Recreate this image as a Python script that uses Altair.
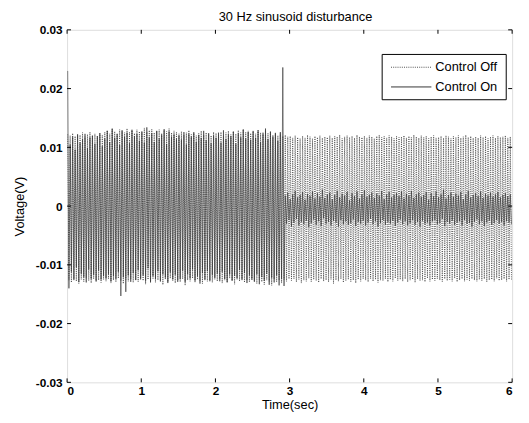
import altair as alt
import pandas as pd

# ---- data (millivolts), one peak and one trough per 30 Hz cycle, 0..6 s ----
freq_hz = 30
off_peaks = [
    12.2, 12.0, 12.4, 11.9, 12.3, 12.1, 12.5, 11.8, 12.2, 12.6, 12.0, 12.3, 11.9, 12.4, 12.1,
    12.6, 12.9, 12.3, 13.1, 12.7, 12.4, 13.0, 12.8, 12.5, 13.2, 12.6, 12.9, 12.4, 13.0, 12.7,
    12.8, 13.3, 12.6, 12.9, 13.1, 12.5, 12.8, 13.0, 12.4, 12.9, 12.7, 13.2, 12.5, 12.8, 12.6,
    12.3, 12.7, 12.1, 12.5, 12.9, 12.2, 12.6, 12.0, 12.4, 12.8, 12.1, 12.5, 12.3, 12.0, 12.6,
    12.4, 12.1, 12.6, 12.0, 12.5, 12.8, 12.2, 12.7, 12.3, 12.9, 12.5, 13.1, 12.6, 12.8, 12.4,
    12.7, 12.3, 12.9, 12.5, 12.2, 12.8, 12.4, 12.6, 12.1, 12.5, 12.0, 12.3, 11.9, 12.1, 11.8,
    11.9, 11.6, 12.0, 11.7, 11.5, 11.9, 11.6, 12.1, 11.8, 11.5, 11.9, 11.7, 12.0, 11.6, 11.8,
    11.7, 12.0, 11.6, 11.9, 11.8, 12.1, 11.5, 11.8, 12.0, 11.7, 11.9, 11.6, 12.1, 11.8, 11.7,
    11.9, 11.6, 12.0, 11.8, 11.5, 11.9, 12.1, 11.7, 11.9, 11.6, 12.0, 11.8, 11.5, 11.9, 11.7,
    11.8, 12.0, 11.6, 11.9, 11.7, 12.1, 11.8, 11.6, 12.0, 11.7, 11.9, 11.5, 11.8, 12.0, 11.6,
    11.7, 11.9, 11.6, 12.0, 11.8, 11.5, 11.9, 11.7, 12.0, 11.6, 11.8, 12.1, 11.7, 11.9, 11.6,
    11.8, 11.6, 12.0, 11.7, 11.9, 11.5, 11.8, 12.0, 11.6, 11.9, 11.7, 11.8, 12.0, 11.6, 11.8,
]
off_troughs = [
    -12.6, -13.0, -12.4, -12.8, -13.2, -12.5, -12.9, -12.3, -12.7, -13.1, -12.4, -12.8, -12.6, -13.0, -12.5,
    -12.8, -12.4, -13.1, -12.6, -12.9, -12.3, -12.7, -13.2, -12.5, -12.8, -12.4, -13.0, -12.6, -12.9, -12.3,
    -12.7, -13.3, -12.5, -12.9, -12.4, -13.0, -12.6, -12.8, -13.4, -12.5, -12.9, -12.3, -12.7, -13.1, -12.6,
    -12.9, -12.4, -13.5, -12.6, -12.8, -12.3, -13.0, -12.5, -12.7, -13.2, -12.4, -12.8, -12.6, -13.0, -12.5,
    -12.8, -12.4, -13.1, -12.6, -12.9, -12.3, -12.7, -13.3, -12.5, -12.8, -12.4, -13.0, -12.6, -12.9, -12.5,
    -12.7, -13.2, -12.5, -12.9, -13.4, -12.6, -12.8, -13.5, -12.4, -12.9, -12.6, -13.1, -12.5, -12.8, -12.4,
    -12.7, -12.4, -12.9, -12.5, -13.1, -12.6, -12.8, -12.3, -12.9, -12.5, -12.7, -13.0, -12.4, -12.8, -12.6,
    -12.9, -12.5, -13.2, -12.6, -12.8, -12.4, -13.0, -12.7, -12.5, -12.9, -12.6, -13.1, -12.5, -12.8, -12.4,
    -12.6, -12.9, -12.4, -12.8, -12.5, -13.0, -12.6, -12.7, -12.4, -12.9, -12.5, -12.8, -12.3, -12.7, -12.5,
    -12.8, -12.4, -12.9, -12.6, -12.5, -13.0, -12.4, -12.7, -12.6, -12.9, -12.3, -12.8, -12.5, -12.7, -12.4,
    -12.6, -12.9, -12.4, -12.7, -12.5, -12.8, -12.3, -12.9, -12.6, -12.4, -12.8, -12.5, -12.7, -12.4, -12.6,
    -12.8, -12.5, -12.7, -12.4, -12.9, -12.6, -12.5, -12.8, -12.3, -12.7, -12.6, -12.4, -12.8, -12.5, -12.7,
]
# Control On: same disturbance until the controller kicks in near 2.9 s
on_peaks_before = [
    23.0, 10.5, 11.8, 9.6, 12.1, 10.8, 11.4, 12.3, 9.9, 11.7, 12.0, 10.6, 11.9, 12.4, 10.2,
    11.5, 12.8, 10.9, 13.2, 11.6, 12.2, 10.4, 12.9, 11.8, 12.5, 10.7, 13.0, 11.9, 12.3, 11.1,
    12.6, 10.8, 13.4, 11.7, 12.4, 10.9, 12.8, 11.5, 12.1, 13.1, 10.6, 12.7, 11.8, 12.2, 11.4,
    12.0, 11.3, 12.6, 10.5, 12.3, 11.8, 12.5, 10.9, 12.1, 11.6, 12.8, 11.2, 12.4, 10.7, 12.0,
    11.6, 12.5, 10.8, 12.9, 11.4, 12.2, 11.9, 12.7, 10.6, 12.4, 11.7, 13.0, 11.5, 12.6, 11.3,
    12.8, 11.6, 12.9, 10.9, 12.5, 13.2, 11.4, 12.7, 11.8, 12.4, 11.1, 12.6,
]
on_troughs_before = [
    -14.0, -11.2, -12.6, -10.4, -12.9, -11.5, -12.1, -13.0, -10.8, -12.4, -11.7, -12.8, -11.0, -12.5, -11.9,
    -12.3, -11.6, -12.8, -11.9, -12.4, -11.2, -15.3, -12.1, -14.6, -11.8, -12.9, -11.4, -12.6, -10.9, -12.5,
    -11.8, -12.7, -10.6, -13.0, -11.9, -12.4, -11.1, -12.8, -11.6, -12.2, -13.1, -11.3, -12.5, -11.7, -12.9,
    -12.4, -11.0, -12.9, -11.6, -12.3, -10.8, -12.7, -11.9, -13.2, -11.4, -12.6, -11.1, -12.8, -11.7, -12.2,
    -11.5, -12.8, -11.2, -12.4, -13.0, -11.6, -12.7, -11.9, -12.3, -10.9, -12.6, -11.4, -13.1, -11.8, -12.5,
    -12.9, -11.6, -13.3, -12.1, -12.7, -11.5, -13.4, -12.2, -13.0, -11.8, -13.5, -12.4,
]
on_switch_peak = 23.6
on_switch_trough = -13.6
on_peaks_after = [
    1.8, 2.3, 1.2, 2.0, 2.6, 1.5, 1.9, 2.4, 1.1, 2.1,
    1.7, 2.5, 1.3, 2.2, 1.6, 2.8, 1.4, 2.0, 2.3, 1.2,
    1.9, 2.6, 1.5, 2.1, 1.8, 2.4, 1.0, 2.2, 1.7, 2.5,
    1.3, 2.0, 2.7, 1.6, 1.9, 2.3, 1.4, 2.1, 1.8, 2.6,
    1.2, 2.0, 2.4, 1.5, 1.9, 2.2, 1.7, 2.5, 1.3, 2.1,
    1.8, 2.6, 1.4, 2.0, 2.3, 1.6, 1.9, 2.4, 1.1, 2.2,
    1.7, 2.5, 1.5, 2.0, 2.8, 1.3, 1.9, 2.3, 1.6, 2.1,
    1.8, 2.4, 1.2, 2.0, 2.6, 1.5, 1.9, 2.2, 1.7, 2.5,
    1.4, 2.1, 1.8, 2.3, 1.6, 2.0, 2.4, 1.5, 1.9, 2.2,
    1.7, 2.0,
]
on_troughs_after = [
    -3.0, -2.4, -3.5, -2.8, -2.2, -3.3, -2.7, -3.1, -2.5, -3.6,
    -2.9, -2.3, -3.2, -2.6, -3.4, -2.1, -3.0, -2.7, -3.3, -2.5,
    -2.8, -3.5, -2.4, -3.1, -2.6, -3.2, -2.9, -2.3, -3.4, -2.7,
    -3.0, -2.5, -3.3, -2.8, -2.2, -3.1, -2.6, -3.5, -2.9, -2.4,
    -3.2, -2.7, -3.0, -2.5, -3.4, -2.8, -2.3, -3.1, -2.6, -3.3,
    -2.9, -2.4, -3.2, -2.7, -3.5, -2.5, -3.0, -2.8, -3.3, -2.6,
    -2.4, -3.1, -2.9, -2.2, -3.4, -2.7, -3.0, -2.5, -3.2, -2.8,
    -2.6, -3.3, -2.4, -3.0, -2.9, -3.5, -2.7, -2.3, -3.1, -2.6,
    -3.4, -2.8, -2.5, -3.2, -2.9, -2.4, -3.0, -2.7, -3.3, -2.6,
    -2.8, -3.1,
]
x_ticks = [0, 1, 2, 3, 4, 5, 6]
y_ticks = [-0.03, -0.02, -0.01, 0, 0.01, 0.02, 0.03]
series_names = ["Control Off", "Control On"]
chart_title = "30 Hz sinusoid disturbance"

on_peaks = on_peaks_before + [on_switch_peak] + on_peaks_after
on_troughs = on_troughs_before + [on_switch_trough] + on_troughs_after


def build(name, peaks, troughs):
    rows = []
    for i, (p, q) in enumerate(zip(peaks, troughs)):
        rows.append({"series": name, "k": 2 * i, "t": (i + 0.25) / freq_hz, "v": p / 1000})
        rows.append({"series": name, "k": 2 * i + 1, "t": (i + 0.75) / freq_hz, "v": q / 1000})
    return rows


df_off = pd.DataFrame(build(series_names[0], off_peaks, off_troughs))
df_on = pd.DataFrame(build(series_names[1], on_peaks, on_troughs))

W, H = 452, 358
FONT = "Liberation Sans"
xs = alt.Scale(domain=[0, 6], nice=False, zero=False)
ys = alt.Scale(domain=[-0.03, 0.03], nice=False, zero=False)

x_axis = alt.Axis(values=x_ticks, ticks=False, domain=False, grid=False, labelFont=FONT,
                  labelFontSize=12, labelFontWeight="bold", labelPadding=3, labelColor="black",
                  title="Time(sec)", titleFont=FONT, titleFontSize=13, titleFontWeight="normal",
                  titlePadding=3, titleColor="black")
y_axis = alt.Axis(values=y_ticks, ticks=False, domain=False, grid=False, labelFont=FONT,
                  labelFontSize=12, labelFontWeight="bold", labelPadding=5, labelColor="black",
                  labelExpr="datum.value == 0 ? '0' : toString(round(datum.value*100)/100)",
                  title="Voltage(V)", titleFont=FONT, titleFontSize=13, titleFontWeight="normal",
                  titlePadding=9, titleColor="black")

X = alt.X("t:Q", scale=xs, axis=x_axis)
Y = alt.Y("v:Q", scale=ys, axis=y_axis)

on_line = alt.Chart(df_on).mark_line(color="#1a1a1a", strokeWidth=0.55, clip=True).encode(
    x=X, y=Y, order="k:Q")
off_line = alt.Chart(df_off).mark_line(color="#3a3a3a", strokeWidth=0.8, strokeDash=[1, 1.2],
                                       clip=True).encode(x=X, y=Y, order="k:Q")

xt = pd.DataFrame({"t": x_ticks})
yt = pd.DataFrame({"v": y_ticks})
tick_bottom = alt.Chart(xt).mark_rule(color="black", strokeWidth=1).encode(
    x=X, y=alt.value(H), y2=alt.value(H - 4))
tick_top = alt.Chart(xt).mark_rule(color="black", strokeWidth=1).encode(
    x=X, y=alt.value(0), y2=alt.value(4))
tick_left = alt.Chart(yt).mark_rule(color="black", strokeWidth=1).encode(
    y=Y, x=alt.value(0), x2=alt.value(4))
tick_right = alt.Chart(yt).mark_rule(color="black", strokeWidth=1).encode(
    y=Y, x=alt.value(W), x2=alt.value(W - 4))

one = pd.DataFrame({"a": [0]})
# title as a text mark above the plot
title_mark = alt.Chart(one).mark_text(align="center", baseline="alphabetic", font=FONT,
                                      fontSize=13, color="black", text=chart_title).encode(
    x=alt.value(W / 2 + 6), y=alt.value(-9))

# legend box (top right)
leg_box = alt.Chart(one).mark_rect(fill="white", stroke="black", strokeWidth=1).encode(
    x=alt.value(320), x2=alt.value(446), y=alt.value(25), y2=alt.value(71))
leg_off = alt.Chart(one).mark_rule(color="#3a3a3a", strokeWidth=0.9, strokeDash=[1, 1.2]).encode(
    x=alt.value(329), x2=alt.value(370), y=alt.value(38))
leg_on = alt.Chart(one).mark_rule(color="black", strokeWidth=0.8).encode(
    x=alt.value(329), x2=alt.value(370), y=alt.value(58))
leg_txt_off = alt.Chart(one).mark_text(align="left", baseline="middle", font=FONT, fontSize=13,
                                       color="black", text=series_names[0]).encode(
    x=alt.value(374), y=alt.value(38))
leg_txt_on = alt.Chart(one).mark_text(align="left", baseline="middle", font=FONT, fontSize=13,
                                      color="black", text=series_names[1]).encode(
    x=alt.value(374), y=alt.value(58))

chart = alt.layer(
    on_line, off_line, tick_bottom, tick_top, tick_left, tick_right, title_mark,
    leg_box, leg_off, leg_on, leg_txt_off, leg_txt_on,
).properties(
    width=W, height=H,
    padding={"left": 60, "top": 19, "right": 9, "bottom": 30},
    autosize=alt.AutoSizeParams(type="none"),
).configure_view(stroke="black", strokeWidth=1).configure(background="white")

chart.save("out.html", embed_options={"renderer": "svg", "actions": False})
